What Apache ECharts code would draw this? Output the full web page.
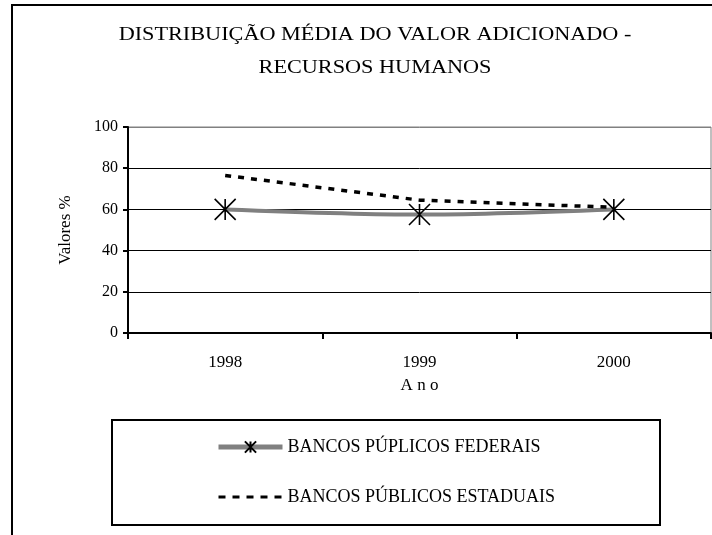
<!DOCTYPE html>
<html>
<head>
<meta charset="utf-8">
<script src="https://cdn.jsdelivr.net/npm/echarts@6/dist/echarts.min.js"></script>
<style>
  html, body { margin: 0; padding: 0; background: #fff; }
  #main { width: 712px; height: 535px; }
</style>
</head>
<body>
<div id="main"></div>
<script>
  // dados
  var anos = ['1998', '1999', '2000'];
  var federais = [60, 57.5, 60];
  var estaduais = [76.5, 64.5, 61];
  var yTicks = [0, 20, 40, 60, 80, 100];
  var titulo = ['DISTRIBUIÇÃO MÉDIA DO VALOR ADICIONADO -', 'RECURSOS HUMANOS'];
  var nomes = ['BANCOS PÚPLICOS FEDERAIS', 'BANCOS PÚBLICOS ESTADUAIS'];

  var serif = '"Liberation Serif", "DejaVu Serif", serif';
  var asterisco = 'path://M0,0L20,20M20,0L0,20M10,0L10,20';

  var myChart = echarts.init(document.getElementById('main'));

  // título em texto esticado na horizontal como no original
  function linhaTitulo(txt, y) {
    return {
      type: 'text',
      x: 375,
      y: y,
      scaleX: 1.17,
      silent: true,
      style: {
        text: txt,
        font: '19px ' + serif,
        fill: '#000',
        align: 'center',
        verticalAlign: 'middle'
      }
    };
  }

  var option = {
    backgroundColor: '#fff',
    animation: false,
    graphic: [
      {
        type: 'rect',
        shape: { x: 12, y: 5, width: 720, height: 560 },
        style: { fill: null, stroke: '#000', lineWidth: 2 },
        silent: true
      },
      {
        type: 'rect',
        shape: { x: 112, y: 420, width: 548, height: 105 },
        style: { fill: null, stroke: '#000', lineWidth: 2 },
        silent: true
      },
      linhaTitulo(titulo[0], 35),
      linhaTitulo(titulo[1], 68)
    ],
    legend: {
      orient: 'vertical',
      left: 211,
      top: 433,
      itemWidth: 64,
      itemHeight: 14,
      itemGap: 32,
      textStyle: { fontFamily: serif, fontSize: 18, color: '#000' },
      data: [
        { name: nomes[0], lineStyle: { width: 5, color: '#808080' } },
        { name: nomes[1], lineStyle: { width: 3, color: '#000', type: [7, 7] },
          itemStyle: { color: 'rgba(0,0,0,0)', borderWidth: 0 } }
      ]
    },
    grid: {
      left: 128,
      top: 127,
      right: 1,
      bottom: 202,
      show: true,
      borderColor: '#808080',
      borderWidth: 1
    },
    xAxis: {
      type: 'category',
      data: anos,
      boundaryGap: true,
      name: 'A n o',
      nameLocation: 'middle',
      nameGap: 44,
      nameTextStyle: { fontFamily: serif, fontSize: 17, color: '#000' },
      axisLine: { lineStyle: { color: '#000', width: 2 } },
      axisTick: { show: true, length: 6, lineStyle: { color: '#000', width: 2 } },
      axisLabel: { fontFamily: serif, fontSize: 17, color: '#000', margin: 21 },
      splitLine: { show: false }
    },
    yAxis: {
      type: 'value',
      min: yTicks[0],
      max: yTicks[yTicks.length - 1],
      interval: 20,
      name: 'Valores %',
      nameLocation: 'middle',
      nameGap: 54,
      nameRotate: 90,
      nameTextStyle: { fontFamily: serif, fontSize: 17, color: '#000' },
      axisLine: { show: true, lineStyle: { color: '#000', width: 2 } },
      axisTick: { show: true, length: 5, lineStyle: { color: '#000', width: 2 } },
      axisLabel: { fontFamily: serif, fontSize: 16, color: '#000', margin: 10 },
      splitLine: {
        show: true,
        lineStyle: { color: ['#000', '#000', '#000', '#000', '#000', '#808080'], width: 1 }
      }
    },
    series: [
      {
        name: nomes[0],
        type: 'line',
        data: federais,
        smooth: 0.3,
        symbol: asterisco,
        symbolSize: 21,
        z: 3,
        lineStyle: { color: '#808080', width: 4 },
        itemStyle: { color: 'rgba(0,0,0,0)', borderColor: '#000', borderWidth: 1.6 }
      },
      {
        name: nomes[1],
        type: 'line',
        data: estaduais,
        symbol: 'none',
        z: 4,
        lineStyle: { color: '#000', width: 3.5, type: [6, 7] },
        itemStyle: { color: '#000' }
      }
    ]
  };

  myChart.setOption(option);
</script>
</body>
</html>
